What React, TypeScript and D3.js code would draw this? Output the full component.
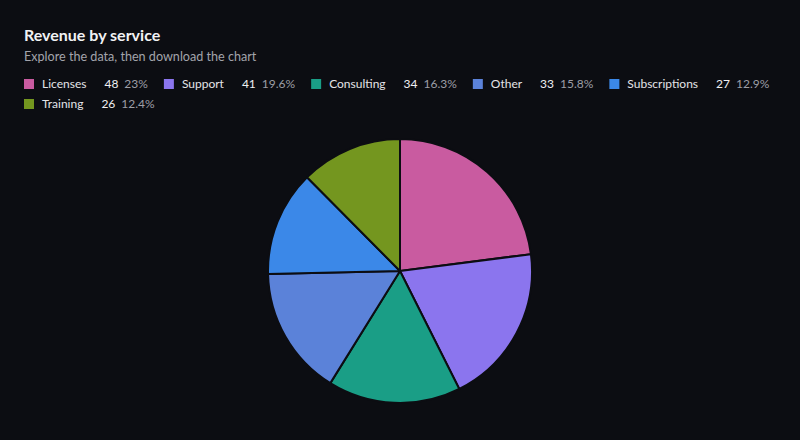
import React, { useMemo } from "react";
import * as d3 from "d3";

const categories = ["Licenses", "Support", "Consulting", "Other", "Subscriptions", "Training"];
const values = [48, 41, 34, 33, 27, 26];
const colors = ["#c95ba0", "#8b75ee", "#1a9e86", "#5b82d9", "#3b88e8", "#74961f"];

const W = 800;
const H = 440;
const FONT = "Lato, 'Noto Sans', sans-serif";

function measure(text: string, size: number, weight = "normal") {
  const c = document.createElement("canvas").getContext("2d")!;
  c.font = `${weight} ${size}px Lato`;
  return c.measureText(text).width;
}

export default function App() {
  const total = d3.sum(values);
  const data = categories.map((c, i) => ({ c, v: values[i], color: colors[i] }));
  const pie = d3.pie<any>().value((d) => d.v).sort(null);
  const arcs = pie(data);
  const r = 132;
  const arc = d3.arc<any>().innerRadius(0).outerRadius(r);
  const cx = 400;
  const cy = 271;

  const legend = useMemo(() => {
    const items: any[] = [];
    let x = 24;
    let y = 84;
    const maxX = 780;
    data.forEach((d) => {
      const pct = d3.format(".3~")((d.v / total) * 100) + "%";
      const lw = measure(d.c, 12);
      const vw = measure(String(d.v), 12);
      const pw = measure(pct, 12);
      const w = 18 + lw + 18 + vw + 6 + pw;
      if (x + w > maxX) {
        x = 24;
        y += 20;
      }
      items.push({ ...d, x, y, pct, lw, vw });
      x += w + 16;
    });
    return items;
  }, []);

  return (
    <svg
      width={W}
      height={H}
      style={{ position: "fixed", left: 0, top: 0, background: "#0c0d12" }}
      fontFamily={FONT}
    >
      <rect width={W} height={H} fill="#0c0d12" />
      <text x={24} y={41} fill="#f2f2f4" fontSize={16} fontWeight={700}>
        Revenue by service
      </text>
      <text x={24} y={61} fill="#a3a4ab" fontSize={12.6}>
        Explore the data, then download the chart
      </text>
      {legend.map((it) => (
        <g key={it.c}>
          <rect x={it.x} y={it.y - 5} width={10} height={10} fill={it.color} />
          <text x={it.x + 18} y={it.y} dy="0.35em" fill="#e4e4e8" fontSize={12}>
            {it.c}
          </text>
          <text x={it.x + 18 + it.lw + 18} y={it.y} dy="0.35em" fill="#f0f0f2" fontSize={12}>
            {it.v}
          </text>
          <text x={it.x + 18 + it.lw + 18 + it.vw + 6} y={it.y} dy="0.35em" fill="#9d9ea6" fontSize={12}>
            {it.pct}
          </text>
        </g>
      ))}
      <g transform={`translate(${cx},${cy})`}>
        {arcs.map((a, i) => (
          <path key={i} d={arc(a) as string} fill={a.data.color} stroke="#0c0d12" strokeWidth={2} strokeLinejoin="round" />
        ))}
      </g>
    </svg>
  );
}
